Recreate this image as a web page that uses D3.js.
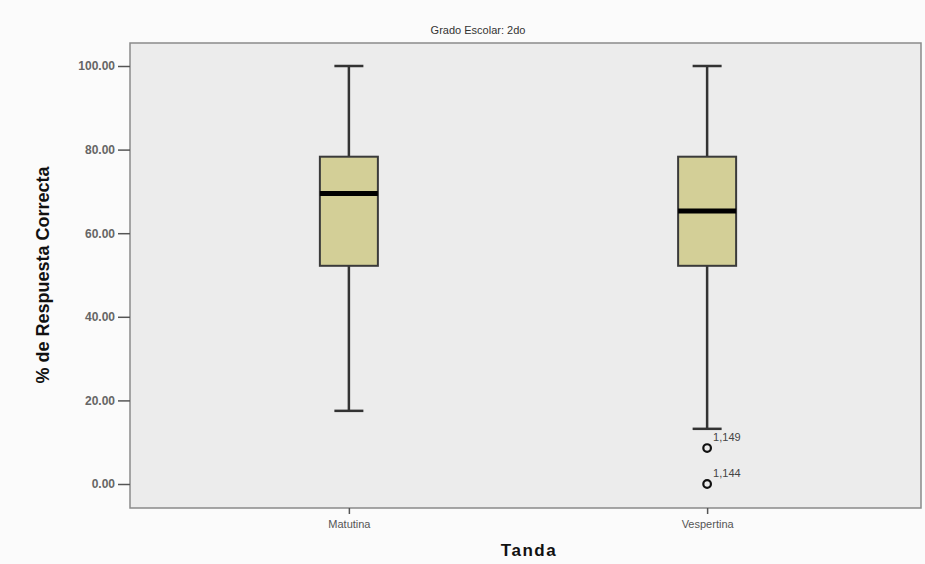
<!DOCTYPE html>
<html>
<head>
<meta charset="utf-8">
<script src="https://cdn.jsdelivr.net/npm/d3@7"></script>
<style>
  html, body { margin: 0; padding: 0; background: #fbfbfb; }
  svg { display: block; }
  text { font-family: "Liberation Sans", Arial, sans-serif; }
</style>
</head>
<body>
<svg id="chart" width="925" height="564"></svg>
<script>
// Boxplot summary per shift (Tanda), grade 2
const categories = ["Matutina", "Vespertina"];
const whiskerLow = [17.5, 13.2];
const q1 = [52.2, 52.2];
const medians = [69.5, 65.3];
const q3 = [78.3, 78.3];
const whiskerHigh = [100, 100];
const outlierValues = [8.6, 0];
const outlierCategory = ["Vespertina", "Vespertina"];
const outlierLabels = ["1,149", "1,144"];
const yTicks = [0, 20, 40, 60, 80, 100];

const svg = d3.select("#chart");
const plot = { left: 130, right: 921, top: 43, bottom: 508 };

const y = d3.scaleLinear().domain([0, 100]).range([484, 66]);
const x = d3.scalePoint().domain(categories).range([130, 926]).padding(0.611);

// plot frame
svg.append("rect")
  .attr("x", plot.left).attr("y", plot.top)
  .attr("width", plot.right - plot.left).attr("height", plot.bottom - plot.top)
  .attr("fill", "#ececec").attr("stroke", "#8a8a8a").attr("stroke-width", 1.5);

// title
svg.append("text")
  .attr("x", 478).attr("y", 34)
  .attr("text-anchor", "middle")
  .attr("font-size", 11).attr("fill", "#333")
  .text("Grado Escolar: 2do");

// y axis
const yAxis = d3.axisLeft(y).tickValues(yTicks).tickFormat(d3.format(".2f")).tickSize(12).tickPadding(3);
const gy = svg.append("g").attr("transform", `translate(${plot.left},0)`).call(yAxis);
gy.select(".domain").remove();
gy.selectAll(".tick line").attr("stroke", "#555").attr("stroke-width", 1.5);
gy.selectAll(".tick text")
  .attr("font-family", "'Liberation Sans', Arial, sans-serif")
  .attr("font-size", 12).attr("font-weight", "bold").attr("fill", "#666");

// x axis
const xAxis = d3.axisBottom(x).tickSize(6).tickPadding(6);
const gx = svg.append("g").attr("transform", `translate(0,${plot.bottom})`).call(xAxis);
gx.select(".domain").remove();
gx.selectAll(".tick line").attr("stroke", "#555").attr("stroke-width", 1.5);
gx.selectAll(".tick text")
  .attr("font-family", "'Liberation Sans', Arial, sans-serif")
  .attr("font-size", 11).attr("fill", "#555");

// axis titles
svg.append("text")
  .attr("transform", `translate(49,275) rotate(-90)`)
  .attr("text-anchor", "middle")
  .attr("font-size", 18).attr("font-weight", "bold").attr("fill", "#111")
  .attr("font-family", "'Liberation Sans Narrow', 'Liberation Sans', Arial, sans-serif")
  .text("% de Respuesta Correcta");

svg.append("text")
  .attr("x", 529).attr("y", 556)
  .attr("text-anchor", "middle")
  .attr("font-size", 17).attr("font-weight", "bold").attr("fill", "#111")
  .attr("letter-spacing", 1.5)
  .text("Tanda");

// boxes
const boxW = 58, capW = 29;
const data = categories.map((c, i) => ({
  c, lo: whiskerLow[i], q1: q1[i], med: medians[i], q3: q3[i], hi: whiskerHigh[i]
}));

const g = svg.append("g");
data.forEach(d => {
  const cx = x(d.c);
  // whiskers
  g.append("line").attr("x1", cx).attr("x2", cx).attr("y1", y(d.hi)).attr("y2", y(d.q3))
    .attr("stroke", "#333").attr("stroke-width", 2.5);
  g.append("line").attr("x1", cx).attr("x2", cx).attr("y1", y(d.q1)).attr("y2", y(d.lo))
    .attr("stroke", "#333").attr("stroke-width", 2.5);
  g.append("line").attr("x1", cx - capW / 2).attr("x2", cx + capW / 2).attr("y1", y(d.hi)).attr("y2", y(d.hi))
    .attr("stroke", "#333").attr("stroke-width", 2.5);
  g.append("line").attr("x1", cx - capW / 2).attr("x2", cx + capW / 2).attr("y1", y(d.lo)).attr("y2", y(d.lo))
    .attr("stroke", "#333").attr("stroke-width", 2.5);
  // box
  g.append("rect")
    .attr("x", cx - boxW / 2).attr("y", y(d.q3))
    .attr("width", boxW).attr("height", y(d.q1) - y(d.q3))
    .attr("fill", "#d3cf97").attr("stroke", "#3a3a3a").attr("stroke-width", 2);
  // median
  g.append("line").attr("x1", cx - boxW / 2).attr("x2", cx + boxW / 2).attr("y1", y(d.med)).attr("y2", y(d.med))
    .attr("stroke", "#000").attr("stroke-width", 5);
});

// outliers
outlierValues.forEach((v, i) => {
  const cx = x(outlierCategory[i]);
  g.append("circle").attr("cx", cx).attr("cy", y(v)).attr("r", 3.8)
    .attr("fill", "#ececec").attr("stroke", "#111").attr("stroke-width", 2.2);
  g.append("text").attr("x", cx + 6).attr("y", y(v) - 7)
    .attr("font-size", 11).attr("fill", "#444")
    .text(outlierLabels[i]);
});
</script>
</body>
</html>
